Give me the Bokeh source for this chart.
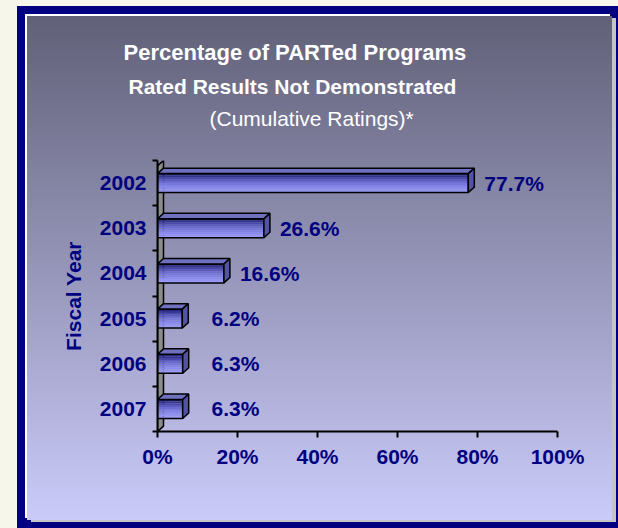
from bokeh.plotting import figure
from bokeh.models import (Range1d, FactorRange, LinearAxis, FixedTicker,
                          PrintfTickFormatter, Title, ColumnDataSource, LabelSet)
from bokeh.transform import dodge
from bokeh.core.properties import value
from bokeh.embed import file_html
from bokeh.resources import INLINE

# ---------------- data ----------------
years = ["2002", "2003", "2004", "2005", "2006", "2007"]
pct_not_demonstrated = [77.7, 26.6, 16.6, 6.2, 6.3, 6.3]
x_ticks = [0, 20, 40, 60, 80, 100]
x_tick_format = "%d%%"

title_line1 = "Percentage of PARTed Programs"
title_line2 = "Rated Results Not Demonstrated"
title_line3 = "(Cumulative Ratings)*"
y_axis_label = "Fiscal Year"

# ---------------- style ----------------
FONT = "Liberation Sans"
NAVY = "#000080"
FS = "21px"
BAR_H = 0.42          # bar thickness in category units
DEPTH_X = 1.5         # 3-D depth (x data units)
DEPTH_Y = 0.12        # 3-D depth (category units)

W, H = 585, 504
factors = list(reversed(years))

p = figure(width=W, height=H,
           x_range=Range1d(0, 100), y_range=FactorRange(factors=factors),
           output_backend="svg", toolbar_location=None, title_location=None,
           min_border_left=130, min_border_right=55,
           min_border_top=144, min_border_bottom=89)
p.margin = (16, 0, 0, 27)
p.styles = {
    "background": "linear-gradient(to bottom, #606078 0%, #cbcbfa 100%)",
    "box-shadow": "-2px -2px 0 0 #ffffff, 4px 2px 0 0 #c4c4c4, "
                  "0 0 0 10px #000080, 0 0 0 80px #f6f6ea",
}
p.background_fill_color = None
p.border_fill_color = None
p.outline_line_color = None
p.xgrid.visible = False
p.ygrid.visible = False

# ---------------- axes ----------------
cat_axis = p.left[0]
cat_axis.axis_line_color = None
cat_axis.major_tick_line_color = None
cat_axis.major_tick_out = 0
cat_axis.major_tick_in = 0
cat_axis.major_label_standoff = 6
cat_axis.major_label_text_font = FONT
cat_axis.major_label_text_font_size = FS
cat_axis.major_label_text_font_style = "bold"
cat_axis.major_label_text_color = NAVY
cat_axis.axis_label = y_axis_label
cat_axis.axis_label_text_font = FONT
cat_axis.axis_label_text_font_size = FS
cat_axis.axis_label_text_font_style = "bold"
cat_axis.axis_label_text_color = NAVY
cat_axis.axis_label_standoff = 12

n = len(years)
wall_axis = LinearAxis(ticker=FixedTicker(ticks=list(range(n + 1))))
wall_axis.axis_line_width = 2
wall_axis.axis_line_color = "black"
wall_axis.major_tick_out = 5
wall_axis.major_tick_in = 0
wall_axis.major_tick_line_width = 2
wall_axis.minor_tick_line_color = None
wall_axis.major_label_text_alpha = 0
wall_axis.major_label_text_font_size = "1px"
wall_axis.major_label_standoff = 0
p.left = [wall_axis, cat_axis]

xa = p.xaxis[0]
xa.ticker = FixedTicker(ticks=x_ticks)
xa.formatter = PrintfTickFormatter(format=x_tick_format)
xa.axis_line_width = 2
xa.axis_line_color = "black"
xa.major_tick_out = 6
xa.major_tick_in = 0
xa.major_tick_line_width = 2
xa.minor_tick_line_color = None
xa.major_label_standoff = 7
xa.major_label_text_font = FONT
xa.major_label_text_font_size = FS
xa.major_label_text_font_style = "bold"
xa.major_label_text_color = NAVY

# ---------------- titles ----------------
def mk_title(text, style, size, standoff, offset):
    return Title(text=text, align="left", offset=offset, standoff=standoff,
                 text_color="white", text_font=FONT,
                 text_font_size=size, text_font_style=style)

# blank spacer between the plot and the title block
p.add_layout(mk_title(" ", "normal", "1px", 24, 0), "above")
p.add_layout(mk_title(title_line3, "normal", "21px", 7, 52), "above")
p.add_layout(mk_title(title_line2, "bold", "21px", 7, -29), "above")
p.add_layout(mk_title(title_line1, "bold", "22px", 10, -34), "above")

# ---------------- 3-D wall ----------------
p.patch(x=[0, DEPTH_X, DEPTH_X, 0], y=[0, DEPTH_Y, n, n - DEPTH_Y],
        fill_color="#8c8c8c", line_color="black", line_width=1.5)

# ---------------- bars ----------------
src = ColumnDataSource(dict(
    year=years,
    pct=pct_not_demonstrated,
    label=[f"{v:.1f}%" for v in pct_not_demonstrated],
    lx=[max(v + 4, 13.5) for v in pct_not_demonstrated],
))

# front face: vertical colour gradient made of thin slices
grad = ["#25257a", "#34348f", "#4848aa", "#5a5abf", "#6a6ad0",
        "#7777dc", "#8282e6", "#8b8bee", "#9393f4", "#9a9af9"]
N = len(grad)
sh = BAR_H / N
for k, col in enumerate(grad):
    off = BAR_H / 2 - sh * (k + 0.5)
    p.hbar(y=dodge("year", off, range=p.y_range), height=sh * 1.02, left=0,
           right="pct", source=src, fill_color=col, line_color=None)
p.hbar(y="year", height=BAR_H, left=0, right="pct", source=src,
       fill_color=None, line_color="black", line_width=1.5)

# top and side faces (parallelograms)
centers = [factors.index(y) + 0.5 for y in years]
top_xs, top_ys, side_xs, side_ys = [], [], [], []
for v, c in zip(pct_not_demonstrated, centers):
    t, b = c + BAR_H / 2, c - BAR_H / 2
    top_xs.append([0, v, v + DEPTH_X, DEPTH_X])
    top_ys.append([t, t, t + DEPTH_Y, t + DEPTH_Y])
    side_xs.append([v, v + DEPTH_X, v + DEPTH_X, v])
    side_ys.append([b, b + DEPTH_Y, t + DEPTH_Y, t])
p.patches(top_xs, top_ys, fill_color="#7070c0", line_color="black", line_width=1.5)
p.patches(side_xs, side_ys, fill_color="#5252a6", line_color="black", line_width=1.5)

# ---------------- data labels ----------------
labels = LabelSet(x="lx", y="year", text="label", source=src,
                  text_font=value(FONT), text_font_size=value(FS),
                  text_font_style="bold",
                  text_color=NAVY, text_baseline="middle", text_align="left")
p.add_layout(labels)

open("out.html", "w").write(file_html(p, INLINE))
